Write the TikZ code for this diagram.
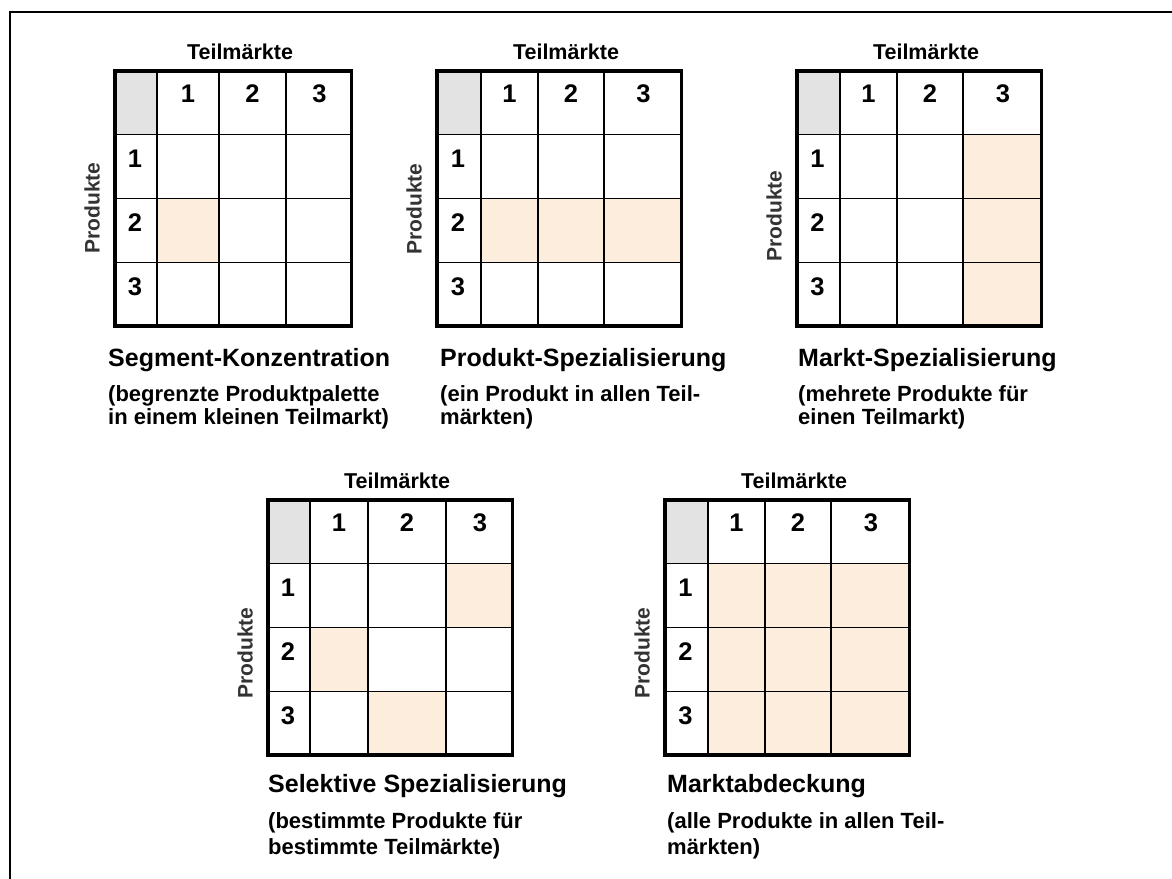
\documentclass[tikz,border=0pt]{standalone}
\usepackage{fontspec}
\setmainfont{Liberation Sans}
\usepackage{xcolor}
\usetikzlibrary{positioning}
\definecolor{kopfgrau}{RGB}{227,227,227}
\definecolor{zielfeld}{RGB}{253,237,221}

% Raster: #1 Name, #2-#6 Spaltenkanten, #7 Oberkante, #8 markierte Felder r/c, #9 Hoehe "Produkte"
\newcommand{\marktraster}[9]{%
  \pgfmathsetmacro{\ya}{#7+65.5}\pgfmathsetmacro{\yb}{#7+129.5}%
  \pgfmathsetmacro{\yc}{#7+193.5}\pgfmathsetmacro{\yd}{#7+258.5}%
  \fill[kopffeld] (#2,#7) rectangle (#3,\ya);
  \foreach \r/\c in {#8}{
    \pgfmathsetmacro{\xl}{{#2,#3,#4,#5,#6}[\c]}
    \pgfmathsetmacro{\xr}{{#2,#3,#4,#5,#6}[\c+1]}
    \pgfmathsetmacro{\yo}{#7+{0,65.5,129.5,193.5,258.5}[\r]}
    \pgfmathsetmacro{\yu}{#7+{0,65.5,129.5,193.5,258.5}[\r+1]}
    \fill[feld] (\xl,\yo) rectangle (\xr,\yu);
  }
  \foreach \x in {#3,#4,#5} \draw[gitter] (\x,#7) -- (\x,\yd);
  \foreach \y in {\ya,\yb,\yc} \draw[gitter] (#2,\y) -- (#6,\y);
  \draw[rand] (#2+1.75,#7+1.75) rectangle (#6-1.75,\yd-1.75);
  % Spalten- und Zeilennummern
  \foreach \c in {1,2,3}{
    \pgfmathsetmacro{\xl}{{#2,#3,#4,#5,#6}[\c]}
    \pgfmathsetmacro{\xr}{{#2,#3,#4,#5,#6}[\c+1]}
    \node[ziffer] (#1-k\c) at ({(\xl+\xr)/2},#7+33) {\c};
  }
  \foreach \r in {1,2,3}{
    \pgfmathsetmacro{\ym}{#7+{0,65.5,129.5,193.5,258.5}[\r]}
    \node[ziffer] (#1-p\r) at ({(#2+#3)/2},\ym+33) {\r};
  }
  \node[titel] (#1-titel) at ({(#2+#6)/2+7},#7-17) {Teilmärkte};
  \node[achse] (#1-achse) at (#2-21,#9) {Produkte};
}

\begin{document}
\begin{tikzpicture}[x=1pt, y=-1pt,
    kopffeld/.style={fill=kopfgrau},
    feld/.style={fill=zielfeld},
    gitter/.style={line width=1.3pt, black},
    rand/.style={line width=3.5pt, black},
    ziffer/.style={font=\fontsize{25.5}{28}\selectfont\bfseries, inner sep=0pt,
                   anchor=base},
    titel/.style={font=\fontsize{21.5}{25}\selectfont\bfseries, inner sep=0pt},
    achse/.style={font=\fontsize{21}{24}\selectfont\bfseries, text=black!80,
                  inner sep=0pt, rotate=90},
    strategie/.style={font=\fontsize{25}{28}\selectfont\bfseries,
                      anchor=base west, inner sep=0pt},
    erklaerung/.style={font=\fontsize{22}{23}\selectfont\bfseries, align=left,
                       anchor=north west, inner sep=0pt}
]
\useasboundingbox (0,0) rectangle (1172,878);
% Rahmen
\draw[line width=2pt] (10,880) -- (10,12) -- (1174,12);

% obere Reihe
\marktraster{seg}{113}{157}{219}{286}{353}{69}{2/1}{208}
\marktraster{prod}{435}{481}{538}{604}{683}{69}{2/1,2/2,2/3}{209}
\marktraster{markt}{795}{840}{897}{963}{1043}{69}{1/3,2/3,3/3}{216}

% untere Reihe
\marktraster{sel}{266}{310}{368}{446}{514}{498}{1/3,2/1,3/2}{653}
\marktraster{abd}{663}{708}{765}{831}{911}{498}{1/1,1/2,1/3,2/1,2/2,2/3,3/1,3/2,3/3}{653}

\node[strategie] (seg-name) at (108,366) {Segment-Konzentration};
\node[erklaerung] (seg-text) at (108,385) {(begrenzte Produktpalette\\in einem kleinen Teilmarkt)};
\node[strategie] (prod-name) at (440,366) {Produkt-Spezialisierung};
\node[erklaerung] (prod-text) at (440,385) {(ein Produkt in allen Teil-\\märkten)};
\node[strategie] (markt-name) at (798,366) {Markt-Spezialisierung};
\node[erklaerung] (markt-text) at (798,385) {(mehrete Produkte für\\einen Teilmarkt)};

\node[strategie] (sel-name) at (268,792) {Selektive Spezialisierung};
\node[erklaerung, font=\fontsize{22}{26}\selectfont\bfseries] (sel-text) at (268,812) {(bestimmte Produkte für\\bestimmte Teilmärkte)};
\node[strategie] (abd-name) at (667,792) {Marktabdeckung};
\node[erklaerung, font=\fontsize{22}{26}\selectfont\bfseries] (abd-text) at (667,812) {(alle Produkte in allen Teil-\\märkten)};
\end{tikzpicture}
\end{document}
